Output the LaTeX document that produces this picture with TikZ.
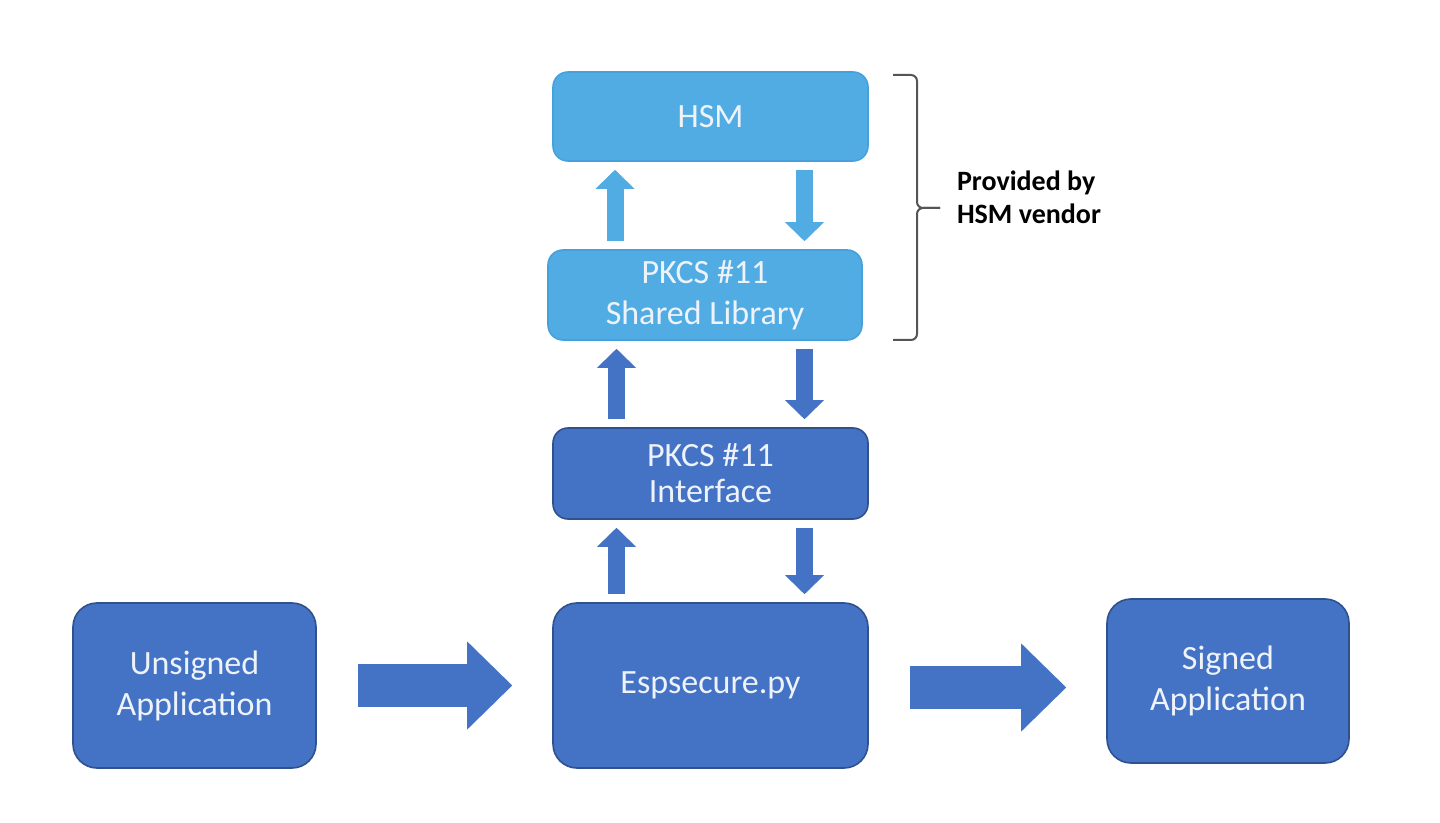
\documentclass[tikz,border=0pt]{standalone}
\usepackage{fontspec}
\setmainfont{Carlito}
\usetikzlibrary{arrows.meta,calc}
\definecolor{lightblue}{RGB}{82,172,228}
\definecolor{lightedge}{RGB}{70,160,220}
\definecolor{darkblue}{RGB}{68,114,196}
\definecolor{darkedge}{RGB}{47,82,143}
\definecolor{boxtext}{RGB}{238,243,250}
\definecolor{bracegray}{RGB}{85,85,85}
\begin{document}
\begin{tikzpicture}[x=0.5pt, y=-0.5pt]
	\tikzset{
		box/.style={rectangle, rounded corners=7.5pt, align=center, inner sep=0pt,
			line width=0.8pt, text=boxtext, font=\fontsize{17}{20.5}\selectfont},
		lbox/.style={box, fill=lightblue, draw=lightedge},
		dbox/.style={box, fill=darkblue, draw=darkedge},
		varrow/.style={line width=8.5pt, shorten <=4pt, shorten >=4pt,
			-{Triangle[length=9.5pt, width=19.5pt, line width=0pt]}},
		harrow/.style={line width=21.5pt, draw=darkblue, shorten <=20.5pt, shorten >=20pt,
			-{Triangle[length=22.5pt, width=44pt, line width=0pt]}},
		lbl/.style={align=left, font=\bfseries\fontsize{14}{16.5}\selectfont}
	};
	\useasboundingbox (0,0) rectangle (1440,823);

	\node[lbox, minimum width=157.5pt, minimum height=44.5pt] (hsm) at (710.5, 116.5) {HSM};
	\node[lbox, minimum width=157pt, minimum height=45pt] (shl) at (705, 295) {PKCS \#11\\Shared Library};
	\node[dbox, minimum width=157.5pt, minimum height=45.5pt, font=\fontsize{17}{18}\selectfont] (ifc) at (710.5, 473.5) {PKCS \#11\\Interface};
	\node[dbox, minimum width=157.5pt, minimum height=82.5pt, rounded corners=12pt] (esp) at (710.5, 685.5) {Espsecure.py};
	\node[dbox, minimum width=121.5pt, minimum height=82.5pt, rounded corners=12pt] (uns) at (194.5, 685.5) {Unsigned\\Application};
	\node[dbox, minimum width=121pt, minimum height=82pt, rounded corners=12pt] (sig) at (1228, 681) {Signed\\Application};

	\node[lbl, anchor=west] (vendor) at (950, 197) {Provided by\\HSM vendor};

	\draw[varrow, draw=lightblue] ([xshift=-45pt]shl.north) -- ([xshift=-45pt]shl.north |- hsm.south);
	\draw[varrow, draw=lightblue] ([xshift=47pt]hsm.south) -- ([xshift=47pt]hsm.south |- shl.north);

	\draw[varrow, draw=darkblue] ([xshift=-47pt]ifc.north) -- ([xshift=-47pt]ifc.north |- shl.south);
	\draw[varrow, draw=darkblue] ([xshift=47pt]ifc.north |- shl.south) -- ([xshift=47pt]ifc.north);

	\draw[varrow, draw=darkblue] ([xshift=-47pt]esp.north) -- ([xshift=-47pt]esp.north |- ifc.south);
	\draw[varrow, draw=darkblue] ([xshift=47pt]ifc.south) -- ([xshift=47pt]ifc.south |- esp.north);

	\draw[harrow] (uns.east) -- (esp.west);
	\draw[harrow] ([yshift=-1pt]esp.east) -- ([yshift=-1pt]esp.east -| sig.west);

	% bracket around the vendor part
	\draw[bracegray, line width=1pt, rounded corners=3pt]
		(893, 75) -- (917, 75) -- (917, 208) -- (940, 208);
	\draw[bracegray, line width=1pt, rounded corners=3pt]
		(893, 340) -- (917, 340) -- (917, 208) -- (940, 208);

\end{tikzpicture}
\end{document}
